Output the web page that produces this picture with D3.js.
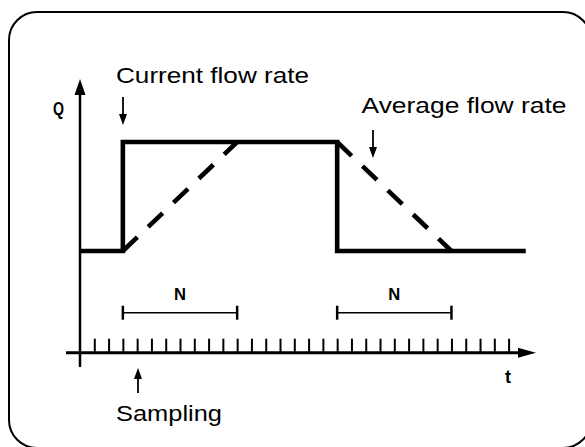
<!DOCTYPE html>
<html>
<head>
<meta charset="utf-8">
<script src="https://cdn.jsdelivr.net/npm/d3@7"></script>
<style>
  html, body { margin: 0; padding: 0; background: #fff; }
  svg { display: block; }
  text { font-family: "Liberation Sans", Arial, Helvetica, sans-serif; fill: #000; }
</style>
</head>
<body>
<svg id="chart" width="585" height="447"></svg>
<script>
// Sample instants (ticks on the time axis) and flow levels (0 = low, 1 = high)
const sampleTicks = d3.range(1, 31);
// Current flow rate: step up at sample 3, step down at sample 18
const currentFlow = [
  { t: 0, q: 0 }, { t: 3, q: 0 }, { t: 3, q: 1 },
  { t: 18, q: 1 }, { t: 18, q: 0 }, { t: 31.2, q: 0 }
];
// Moving average over N = 8 samples (ramps)
const avgRise = [{ t: 3, q: 0 }, { t: 11, q: 1 }];
const avgFall = [{ t: 18, q: 1 }, { t: 26, q: 0 }];
// Averaging windows
const windows = [{ start: 3, end: 11, label: "N" }, { start: 18, end: 26, label: "N" }];
// Text labels
const annotations = [
  { text: "Current flow rate", t: 3, x0: 116, y: 82.5, len: 193, arrowFrom: 97, arrowTo: 125 },
  { text: "Average flow rate", t: 20.5, x0: 361.5, y: 112.5, len: 205, arrowFrom: 130, arrowTo: 158 }
];

const svg = d3.select("#chart");

const x = d3.scaleLinear().domain([0, 30]).range([80, 508.6]);
const y = d3.scaleLinear().domain([0, 1]).range([251, 142]);
const axisY = 352.7;

// Rounded frame
svg.append("rect")
  .attr("x", 9).attr("y", 12).attr("width", 582).attr("height", 436)
  .attr("rx", 28).attr("ry", 28)
  .attr("fill", "none").attr("stroke", "#000").attr("stroke-width", 2);

// Arrow head helper (filled triangle)
function head(g, tipX, tipY, dir, len, half) {
  let pts;
  if (dir === "up") pts = [[tipX, tipY], [tipX - half, tipY + len], [tipX + half, tipY + len]];
  else if (dir === "down") pts = [[tipX, tipY], [tipX - half, tipY - len], [tipX + half, tipY - len]];
  else pts = [[tipX, tipY], [tipX - len, tipY - half], [tipX - len, tipY + half]];
  g.append("path").attr("d", d3.line()(pts) + "Z").attr("fill", "#000");
}

// Q axis
const axes = svg.append("g");
axes.append("line")
  .attr("x1", x(0)).attr("x2", x(0)).attr("y1", 367).attr("y2", 90)
  .attr("stroke", "#000").attr("stroke-width", 2.5);
head(axes, x(0), 79, "up", 16, 5.5);

// Time axis with sample ticks
axes.append("line")
  .attr("x1", 66).attr("x2", 522).attr("y1", axisY).attr("y2", axisY)
  .attr("stroke", "#000").attr("stroke-width", 3);
head(axes, 536, axisY, "right", 18, 5);

const tickAxis = d3.axisTop(x).tickValues(sampleTicks).tickSize(14).tickFormat("");
const tg = svg.append("g").attr("transform", `translate(0,${axisY})`).call(tickAxis);
tg.select(".domain").remove();
tg.selectAll(".tick line").attr("stroke", "#000").attr("stroke-width", 2);

// Axis letters
svg.append("text").attr("x", 58.5).attr("y", 115).attr("text-anchor", "middle")
  .attr("font-weight", "bold").attr("font-size", 19)
  .attr("textLength", 11).attr("lengthAdjust", "spacingAndGlyphs").text("Q");
svg.append("text").attr("x", 508).attr("y", 383).attr("text-anchor", "middle")
  .attr("font-weight", "bold").attr("font-size", 18).text("t");

// Current flow rate (solid step)
const line = d3.line().x(d => x(d.t)).y(d => y(d.q));
svg.append("path").datum(currentFlow).attr("d", line)
  .attr("fill", "none").attr("stroke", "#000").attr("stroke-width", 4.6)
  .attr("stroke-linejoin", "miter").attr("stroke-linecap", "butt");

// Average flow rate (dashed ramps)
[avgRise, avgFall].forEach(seg => {
  svg.append("path").datum(seg).attr("d", line)
    .attr("fill", "none").attr("stroke", "#000").attr("stroke-width", 4.6)
    .attr("stroke-dasharray", "20,15").attr("stroke-linecap", "butt");
});

// Averaging windows N
const wy = 312.7;
windows.forEach(w => {
  const g = svg.append("g");
  g.append("line").attr("x1", x(w.start)).attr("x2", x(w.end)).attr("y1", wy).attr("y2", wy)
    .attr("stroke", "#000").attr("stroke-width", 1.6);
  [w.start, w.end].forEach(t => {
    g.append("line").attr("x1", x(t)).attr("x2", x(t)).attr("y1", wy - 7).attr("y2", wy + 7)
      .attr("stroke", "#000").attr("stroke-width", 2.5);
  });
  g.append("text").attr("x", (x(w.start) + x(w.end)) / 2).attr("y", 300)
    .attr("text-anchor", "middle").attr("font-weight", "bold").attr("font-size", 17)
    .attr("textLength", 12).attr("lengthAdjust", "spacingAndGlyphs").text(w.label);
});

// Labels with pointer arrows
annotations.forEach(a => {
  svg.append("text").attr("x", a.x0).attr("y", a.y).attr("font-size", 21.5)
    .attr("textLength", a.len).attr("lengthAdjust", "spacingAndGlyphs").text(a.text);
});
const pointers = [
  { px: 123, from: 97, to: 125, dir: "down" },
  { px: 373, from: 130, to: 158, dir: "down" },
  { px: 138, from: 393, to: 368, dir: "up" }
];
pointers.forEach(p => {
  svg.append("line").attr("x1", p.px).attr("x2", p.px).attr("y1", p.from)
    .attr("y2", p.dir === "down" ? p.to - 8 : p.to + 8)
    .attr("stroke", "#000").attr("stroke-width", 1.8);
  head(svg, p.px, p.to, p.dir, 11, 4);
});

svg.append("text").attr("x", 116).attr("y", 421).attr("font-size", 21.5)
  .attr("textLength", 106).attr("lengthAdjust", "spacingAndGlyphs").text("Sampling");
</script>
</body>
</html>
